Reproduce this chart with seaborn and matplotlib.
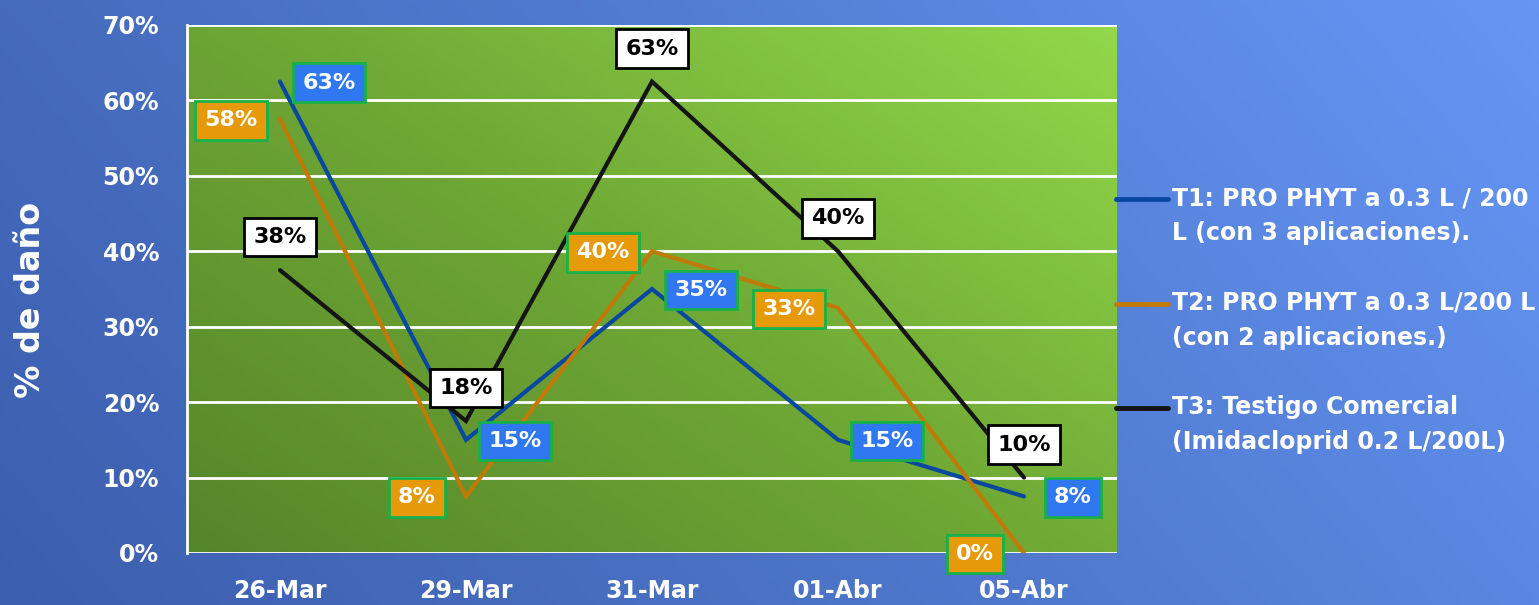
import numpy as np
import pandas as pd
import matplotlib
matplotlib.use("Agg")
import matplotlib.pyplot as plt
from matplotlib.lines import Line2D
from matplotlib.colors import LinearSegmentedColormap
import seaborn as sns

# ---- data ----
fechas = ["26-Mar", "29-Mar", "31-Mar", "01-Abr", "05-Abr"]
t1 = [0.625, 0.15, 0.35, 0.15, 0.075]
t2 = [0.575, 0.075, 0.40, 0.325, 0.0]
t3 = [0.375, 0.175, 0.625, 0.40, 0.10]
nombres = ["T1: PRO PHYT a 0.3 L / 200\nL (con 3 aplicaciones).",
           "T2: PRO PHYT a 0.3 L/200 L\n(con 2 aplicaciones.)",
           "T3: Testigo Comercial\n(Imidacloprid 0.2 L/200L)"]
y_ticks = [0.0, 0.1, 0.2, 0.3, 0.4, 0.5, 0.6, 0.7]

line_colors = ["#0a48a0", "#bf7a08", "#151515"]
box_faces = ["#2f78f2", "#e69a0a", "#ffffff"]
box_edges = ["#18b04a", "#18b04a", "#000000"]
text_colors = ["white", "white", "black"]
offsets = [(49, -1), (-49, -1), (0, 33)]  # pixel offsets of value labels

FONT = "DejaVu Sans"

df = pd.DataFrame({
    "pos": list(range(len(fechas))) * 3,
    "valor": t1 + t2 + t3,
    "serie": [nombres[0]] * 5 + [nombres[1]] * 5 + [nombres[2]] * 5,
})

sns.set_theme(style="white")
plt.rcParams["font.family"] = [FONT]

W, H = 1539, 605
fig = plt.figure(figsize=(W / 100, H / 100), dpi=100)

# blue background gradient (darker lower-left, lighter right)
bg = fig.add_axes([0, 0, 1, 1], zorder=-10)
xx, yy = np.meshgrid(np.linspace(0, 1, 300), np.linspace(0, 1, 120))
t = np.clip(0.75 * xx + 0.25 * yy, 0, 1)
cm_bg = LinearSegmentedColormap.from_list("bg", ["#3c5eae", "#4f78cc", "#6596f6"])
bg.imshow(t, cmap=cm_bg, origin="lower", extent=[0, 1, 0, 1], aspect="auto")
bg.axis("off")

ax = fig.add_axes([187 / W, 1 - 553 / H, (1117 - 187) / W, (553 - 25) / H])
ax.set_facecolor("none")

# green plot-area gradient
t2g = np.clip(0.55 * xx + 0.45 * yy, 0, 1)
cm_pl = LinearSegmentedColormap.from_list("pl", ["#55852a", "#6fa835", "#92d84a"])
ax.imshow(t2g, cmap=cm_pl, origin="lower", extent=[-0.5, 4.5, 0, 0.7],
          aspect="auto", zorder=0)

sns.lineplot(data=df, x="pos", y="valor", hue="serie", palette=line_colors,
             linewidth=3, ax=ax, legend=False, zorder=3, sort=False)
for ln in ax.get_lines():
    ln.set_solid_capstyle("round")
    ln.set_solid_joinstyle("miter")

ax.set_xlim(-0.5, 4.5)
ax.set_ylim(0, 0.7)
ax.set_yticks(y_ticks)
ax.set_yticklabels([f"{int(round(v * 100))}%" for v in y_ticks],
                   fontsize=17, fontweight="bold", color="white")
ax.set_xticks(range(len(fechas)))
ax.set_xticklabels(fechas, fontsize=17, fontweight="bold", color="white")
ax.tick_params(axis="y", length=0, pad=20)
ax.tick_params(axis="x", length=0, pad=19)
for v in y_ticks:
    ax.axhline(v, color="white", linewidth=2, zorder=1)
for s in ["top", "right", "bottom"]:
    ax.spines[s].set_visible(False)
ax.spines["left"].set_color("white")
ax.spines["left"].set_linewidth(2)
ax.set_xlabel("")
ax.set_ylabel("% de daño", fontsize=24, fontweight="bold", color="white")
ax.yaxis.set_label_coords(-140 / 930, 0.48)


def pct(v):
    return f"{int(np.floor(v * 100 + 0.5 + 1e-9))}%"


for serie, fc, ec, tc, (dx, dy) in zip([t1, t2, t3], box_faces, box_edges,
                                       text_colors, offsets):
    for i, v in enumerate(serie):
        ax.annotate(pct(v), (i, v), xytext=(dx * 0.72, dy * 0.72),
                    textcoords="offset points", ha="center", va="center",
                    fontsize=16, fontweight="bold", color=tc, zorder=5,
                    bbox=dict(boxstyle="square,pad=0.42", fc=fc, ec=ec, lw=2))

# legend on the right
leg_y = [199, 304, 408]
for yp, col, name in zip(leg_y, line_colors, nombres):
    fy = 1 - yp / H
    fig.add_artist(Line2D([1116 / W, 1168 / W], [fy, fy], color=col, lw=3.5,
                          solid_capstyle="round", transform=fig.transFigure))
    fig.text(1172 / W, fy + 13 / H, name, ha="left", va="top", color="white",
             fontsize=17, fontweight="bold", linespacing=1.6)

fig.savefig("out.png", dpi=100)
